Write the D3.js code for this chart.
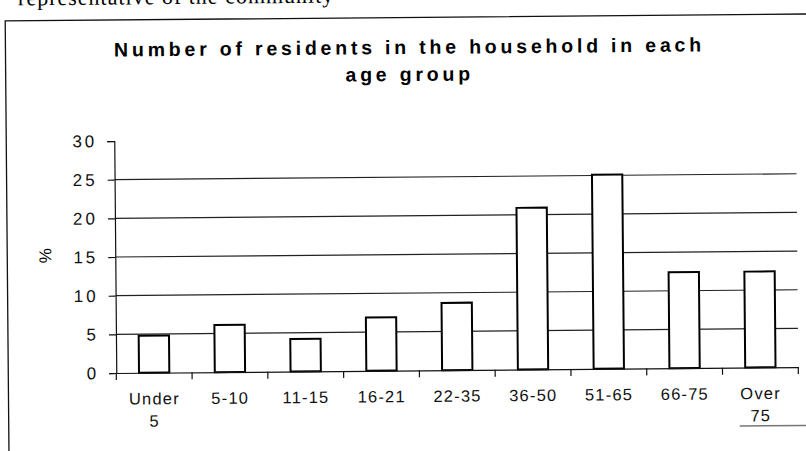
<!DOCTYPE html>
<html>
<head>
<meta charset="utf-8">
<script src="https://cdn.jsdelivr.net/npm/d3@7"></script>
<style>
  body { margin: 0; background: #fff; }
  svg { display: block; font-family: "Liberation Sans", Arial, sans-serif; }
</style>
</head>
<body>
<div id="chart"></div>
<script>
// chart data
const ageGroups = ["Under 5", "5-10", "11-15", "16-21", "22-35", "36-50", "51-65", "66-75", "Over 75"];
const percentValues = [4.8, 6.1, 4.2, 6.9, 8.7, 20.9, 25.1, 12.4, 12.4];
const yTicks = [0, 5, 10, 15, 20, 25, 30];
const titleLines = ["Number of residents in the household in each", "age group"];

function drawChart() {
  let W = 806,
    H = 451;
  var margin = { top: 138.5, right: 9, bottom: 80.5, left: 115 },
    width = W - margin.left - margin.right,
    height = H - margin.top - margin.bottom;

  let root = d3
    .select("#chart")
    .append("svg")
    .attr("width", W)
    .attr("height", H);

  // the scanned page is tilted a little
  let page = root.append("g").attr("transform", "rotate(-0.5," + W / 2 + "," + H / 2 + ")");

  // text of the page above the chart, cut off by the scan
  page
    .append("text")
    .attr("x", 20)
    .attr("y", 2)
    .style("font-family", "'Liberation Serif', serif")
    .style("font-size", "22px")
    .style("letter-spacing", "1px")
    .text("representative of the community");

  // chart frame
  page
    .append("path")
    .attr("d", "M7," + (H + 10) + "V17.5H" + (W + 10))
    .attr("fill", "none")
    .attr("stroke", "#111")
    .attr("stroke-width", 1.3);
  page
    .append("line")
    .attr("x1", 738)
    .attr("x2", W + 10)
    .attr("y1", 429)
    .attr("y2", 429)
    .attr("stroke", "#777")
    .attr("stroke-width", 1.5);

  // title
  titleLines.forEach((t, i) => {
    page
      .append("text")
      .attr("text-anchor", "middle")
      .attr("x", 411)
      .attr("y", 54 + i * 27)
      .style("font-size", "19.5px")
      .style("font-weight", "bold")
      .style("letter-spacing", "3.8px")
      .text(t);
  });

  let svg = page.append("g").attr("transform", "translate(" + margin.left + "," + margin.top + ")");

  //////////
  // AXIS //
  //////////
  var x = d3
    .scaleBand()
    .domain(ageGroups)
    .range([0, width])
    .padding(0);
  var y = d3
    .scaleLinear()
    .domain([0, 30])
    .range([height, 0]);

  // gridlines
  svg
    .selectAll(".grid")
    .data(yTicks.filter(d => d > 0 && d < 30))
    .enter()
    .append("line")
    .attr("x1", 0)
    .attr("x2", width)
    .attr("y1", d => y(d))
    .attr("y2", d => y(d))
    .attr("stroke", "#222")
    .attr("stroke-width", 1.2);

  // Add Y axis
  let yAxis = svg.append("g").call(
    d3
      .axisLeft(y)
      .tickValues(yTicks)
      .tickSize(7)
      .tickPadding(10)
  );
  yAxis.selectAll("path,line").attr("stroke", "#111").attr("stroke-width", 1.2);
  yAxis
    .selectAll("text")
    .style("font-size", "17px")
    .style("letter-spacing", "3px")
    .attr("fill", "#111");

  // Y axis label
  svg
    .append("text")
    .attr("text-anchor", "middle")
    .attr("transform", "translate(" + (51 - margin.left) + "," + (y(15) - 2) + ") rotate(-90)")
    .style("font-size", "17px")
    .text("%");

  // bars
  let barW = x.bandwidth() * 0.4;
  svg
    .selectAll(".bar")
    .data(percentValues)
    .enter()
    .append("rect")
    .attr("x", (d, i) => x(ageGroups[i]) + (x.bandwidth() - barW) / 2)
    .attr("y", d => y(d))
    .attr("width", barW)
    .attr("height", d => y(0) - y(d))
    .attr("fill", "#fff")
    .attr("stroke", "#000")
    .attr("stroke-width", 2);

  // Add X axis
  let xAxis = svg
    .append("g")
    .attr("transform", "translate(0," + height + ")")
    .call(
      d3
        .axisBottom(x)
        .tickSize(0)
        .tickPadding(20)
    );
  xAxis.select("path").attr("stroke", "#111").attr("stroke-width", 1.2);
  // ticks between the categories
  xAxis
    .selectAll(".sep")
    .data(d3.range(ageGroups.length + 1))
    .enter()
    .append("line")
    .attr("x1", i => i * x.step())
    .attr("x2", i => i * x.step())
    .attr("y1", 0)
    .attr("y2", 7)
    .attr("stroke", "#111")
    .attr("stroke-width", 1.2);
  // labels on two lines
  xAxis.selectAll(".tick text").each(function(d) {
    let t = d3.select(this),
      parts = d.split(" ");
    t.text(null)
      .style("font-size", "16.5px")
      .style("letter-spacing", "1.2px")
      .attr("fill", "#111");
    parts.forEach((p, i) => {
      t.append("tspan")
        .attr("x", 0)
        .attr("dy", i === 0 ? "0.71em" : "1.35em")
        .text(p);
    });
  });
}
drawChart();
</script>
</body>
</html>
